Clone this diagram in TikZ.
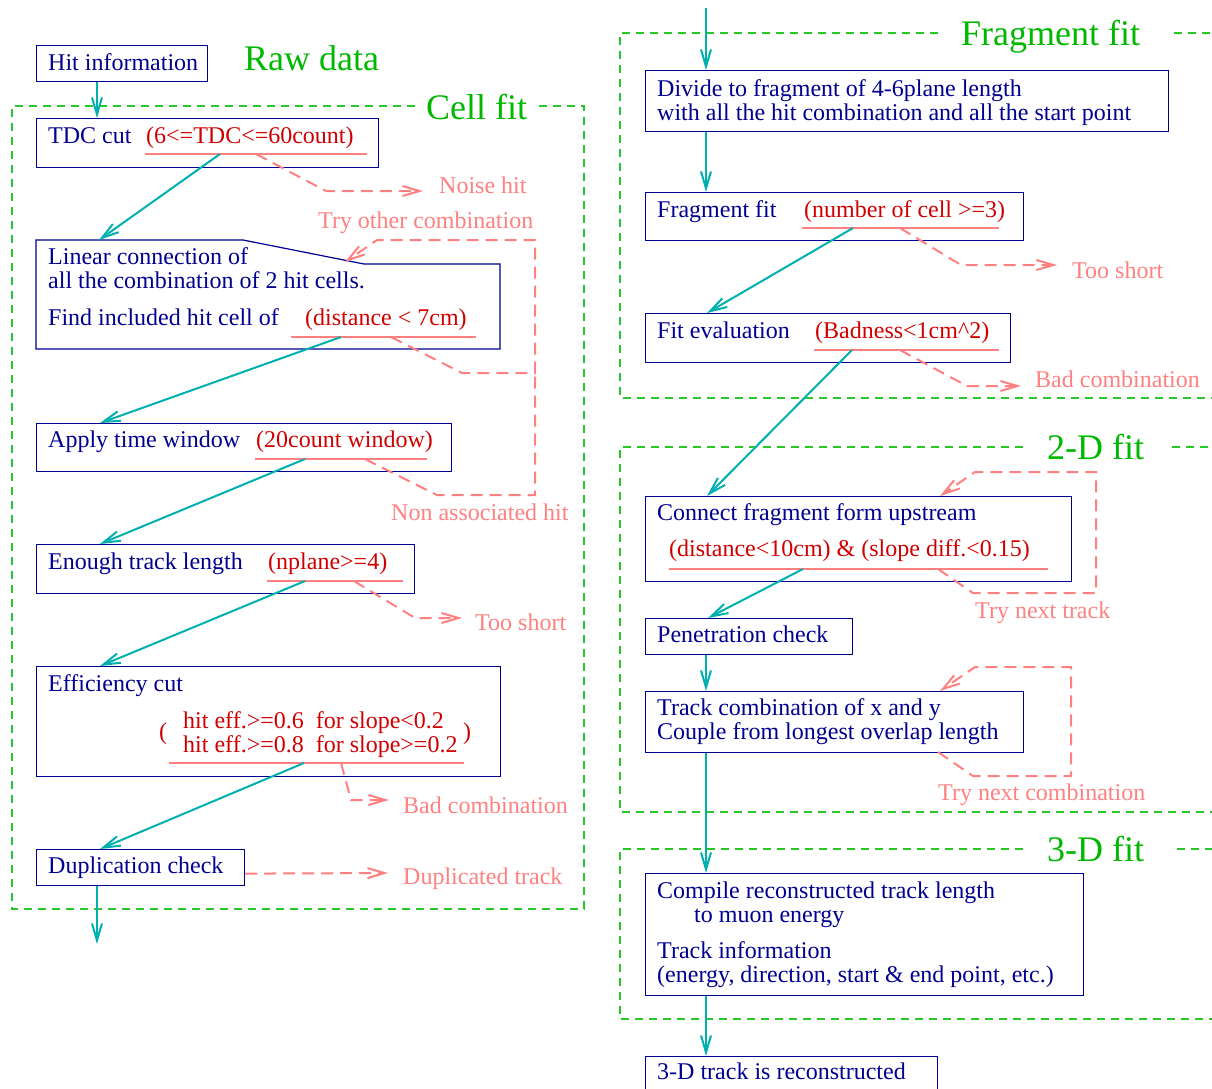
\documentclass[tikz,border=0pt]{standalone}
\usepackage{fontspec}
\setmainfont{Liberation Serif}
\usepackage{tikz}
\usetikzlibrary{arrows.meta}

\definecolor{navy}{RGB}{0,0,144}
\definecolor{redtxt}{RGB}{208,0,0}
\definecolor{salmon}{RGB}{255,128,128}
\definecolor{cyanline}{RGB}{0,176,176}
\definecolor{figgreen}{RGB}{0,184,0}
\definecolor{framegreen}{RGB}{40,200,40}

\begin{document}
\begin{tikzpicture}[
  x=1pt, y=-1pt,
  box/.style={draw=navy, line width=1.2pt, anchor=north west, inner sep=0pt},
  txt/.style={anchor=base west, inner sep=0pt, text=navy, font=\fontsize{24}{24}\selectfont, align=left},
  cond/.style={txt, text=redtxt},
  note/.style={txt, text=salmon},
  title/.style={anchor=base west, inner sep=0pt, text=figgreen, font=\fontsize{36}{40}\selectfont},
  flow/.style={cyanline, line width=2pt, -{Straight Barb[length=17pt, width=10pt]}},
  reject/.style={salmon, line width=2pt, dash pattern=on 12pt off 7pt, -{Straight Barb[length=17pt, width=10pt]}},
  uline/.style={salmon, line width=2pt},
  grpframe/.style={framegreen, line width=1.3pt, dash pattern=on 8pt off 6pt}
]
\clip (0,0) rectangle (1212,1088);

% group frames
\draw[grpframe] (415,106) -- (12,106) -- (12,909) -- (584,909) -- (584,106) -- (535,106);
\draw[grpframe] (938,33) -- (620,33) -- (620,398) -- (1212,398);
\draw[grpframe] (1174,33) -- (1212,33);
\draw[grpframe] (1023,447) -- (620,447) -- (620,812) -- (1212,812);
\draw[grpframe] (1172,447) -- (1212,447);
\draw[grpframe] (1023,849) -- (620,849) -- (620,1019) -- (1212,1019);
\draw[grpframe] (1177,849) -- (1212,849);

\node[title] (rawT) at (244,70) {Raw data};
\node[title] (cellT) at (426,119) {Cell fit};
\node[title] (fragT) at (961,45) {Fragment fit};
\node[title] (twoT) at (1047,459) {2-D fit};
\node[title] (threeT) at (1047,861) {3-D fit};

% left column
\node[box, minimum width=171pt, minimum height=36pt] (hit) at (36,45) {};
\node[box, minimum width=342pt, minimum height=49pt] (tdc) at (36,118) {};
\draw[navy, line width=1.2pt] (36,240) -- (243,240) -- (364,264) -- (500,264) -- (500,349) -- (36,349) -- cycle;
\node[box, minimum width=415pt, minimum height=48pt] (apply) at (36,423) {};
\node[box, minimum width=378pt, minimum height=49pt] (enough) at (36,544) {};
\node[box, minimum width=464pt, minimum height=110pt] (eff) at (36,666) {};
\node[box, minimum width=208pt, minimum height=36pt] (dup) at (36,849) {};

\node[txt] (hitT) at (48,70) {Hit information};
\node[txt] (tdcT) at (48,143) {TDC cut};
\node[cond] (tdcR) at (146,143) {(6<=TDC<=60count)};
\node[txt] (linT) at (48,288) {Linear connection of\\all the combination of 2 hit cells.};
\node[txt] (findT) at (48,325) {Find included hit cell of};
\node[cond] (linR) at (305,325) {(distance < 7cm)};
\node[txt] (applyT) at (48,447) {Apply time window};
\node[cond] (applyR) at (256,447) {(20count window)};
\node[txt] (enoughT) at (48,569) {Enough track length};
\node[cond] (enoughR) at (268,569) {(nplane>=4)};
\node[txt] (effT) at (48,691) {Efficiency cut};
\node[cond] (effR) at (183,752) {hit eff.>=0.6\ \ for slope<0.2\\hit eff.>=0.8\ \ for slope>=0.2};
\node[cond] (effL) at (159,739) {(};
\node[cond] (effRp) at (463,739) {)};
\node[txt] (dupT) at (48,873) {Duplication check};

\node[note] (noiseT) at (439,193) {Noise hit};
\node[note] (otherT) at (318,228) {Try other combination};
\node[note] (nonT) at (391,520) {Non associated hit};
\node[note] (shortT) at (475,630) {Too short};
\node[note] (badT) at (403,813) {Bad combination};
\node[note] (dupdT) at (403,884) {Duplicated track};

% right column
\node[box, minimum width=523pt, minimum height=61pt] (div) at (645,70) {};
\node[box, minimum width=378pt, minimum height=48pt] (frag) at (645,192) {};
\node[box, minimum width=365pt, minimum height=49pt] (fitev) at (645,313) {};
\node[box, minimum width=426pt, minimum height=85pt] (conn) at (645,496) {};
\node[box, minimum width=207pt, minimum height=36pt] (pen) at (645,618) {};
\node[box, minimum width=378pt, minimum height=61pt] (comb) at (645,691) {};
\node[box, minimum width=438pt, minimum height=122pt] (comp) at (645,873) {};
\node[box, minimum width=292pt, minimum height=44pt] (rec) at (645,1056) {};

\node[txt] (divT) at (657,120) {Divide to fragment of 4-6plane length\\with all the hit combination and all the start point};
\node[txt] (fragTT) at (657,217) {Fragment fit};
\node[cond] (fragR) at (804,217) {(number of cell >=3)};
\node[txt] (fitevT) at (657,338) {Fit evaluation};
\node[cond] (fitevR) at (815,338) {(Badness<1cm\textasciicircum 2)};
\node[txt] (connT) at (657,520) {Connect fragment form upstream};
\node[cond] (connR) at (669,556) {(distance<10cm) \& (slope diff.<0.15)};
\node[txt] (penT) at (657,642) {Penetration check};
\node[txt] (combT) at (657,739) {Track combination of x and y\\Couple from longest overlap length};
\node[txt] (compT) at (657,898) {Compile reconstructed track length};
\node[txt] (muonT) at (694,922) {to muon energy};
\node[txt] (infoT) at (657,982) {Track information\\(energy, direction, start \& end point, etc.)};
\node[txt] (recT) at (657,1079) {3-D track is reconstructed};

\node[note] (fshortT) at (1072,278) {Too short};
\node[note] (fbadT) at (1035,387) {Bad combination};
\node[note] (nextT) at (975,618) {Try next track};
\node[note] (ncombT) at (938,800) {Try next combination};

% underlines
\draw[uline] (145,154) -- (367,154);
\draw[uline] (291,337) -- (476,337);
\draw[uline] (255,459) -- (427,459);
\draw[uline] (267,581) -- (403,581);
\draw[uline] (169,763) -- (464,763);
\draw[uline] (802,228) -- (999,228);
\draw[uline] (814,350) -- (999,350);
\draw[uline] (669,569) -- (1048,569);

% connector ends
\coordinate (tdcA) at (220,154);
\coordinate (tdcB) at (256,154);
\coordinate (noiseE) at (423,191);
\coordinate (linIn) at (99,240);
\coordinate (linA) at (341,337);
\coordinate (linB) at (391,337);
\coordinate (linRet) at (345,262);
\coordinate (loopM) at (535,373);
\coordinate (loopR) at (535,240);
\coordinate (applyA) at (305,459);
\coordinate (applyB) at (365,459);
\coordinate (enoughA) at (305,581);
\coordinate (enoughB) at (354,581);
\coordinate (enoughE) at (462,618);
\coordinate (effA) at (304,763);
\coordinate (effB) at (341,763);
\coordinate (effE) at (389,800);
\coordinate (dupE) at (388,873);
\coordinate (cellOut) at (97,944);
\coordinate (rightIn) at (706,8);
\coordinate (fragA) at (853,228);
\coordinate (fragB) at (900,228);
\coordinate (fragE) at (1057,265);
\coordinate (fitevA) at (852,350);
\coordinate (fitevB) at (900,350);
\coordinate (fitevE) at (1021,386);
\coordinate (connA) at (803,569);
\coordinate (connB) at (938,569);
\coordinate (combB) at (938,752);

% main flow
\draw[flow] ([xshift=61pt]hit.south west) -- ([xshift=61pt]tdc.north west);
\draw[flow] (tdcA) -- (linIn);
\draw[flow] (linA) -- ([xshift=64pt]apply.north west);
\draw[flow] (applyA) -- ([xshift=64pt]enough.north west);
\draw[flow] (enoughA) -- ([xshift=64pt]eff.north west);
\draw[flow] (effA) -- ([xshift=64pt]dup.north west);
\draw[flow] ([xshift=61pt]dup.south west) -- (cellOut);

\draw[flow] (rightIn) -- ([xshift=61pt]div.north west);
\draw[flow] ([xshift=61pt]div.south west) -- ([xshift=61pt]frag.north west);
\draw[flow] (fragA) -- ([xshift=62pt]fitev.north west);
\draw[flow] (fitevA) -- ([xshift=62pt]conn.north west);
\draw[flow] (connA) -- ([xshift=63pt]pen.north west);
\draw[flow] ([xshift=61pt]pen.south west) -- ([xshift=61pt]comb.north west);
\draw[flow] ([xshift=61pt]comb.south west) -- ([xshift=61pt]comp.north west);
\draw[flow] ([xshift=61pt]comp.south west) -- ([xshift=61pt]rec.north west);

% rejected branches
\draw[reject] (tdcB) -- ++(70,37) -- (noiseE);
\draw[reject] (linB) -- ++(71,36) -- (loopM) -- (loopR) -- ++(-158,0) -- (linRet);
\draw[reject, -] (applyB) -- ++(72,36) -| (loopM);
\draw[reject] (enoughB) -- ++(61,37) -- (enoughE);
\draw[reject] (effB) -- ++(10,37) -- (effE);
\draw[reject] ([yshift=-6pt]dup.east) -- (dupE);
\draw[reject] (fragB) -- ++(61,37) -- (fragE);
\draw[reject] (fitevB) -- ++(67,36) -- (fitevE);
\draw[reject] (connB) -- ++(35,24) -- ++(123,0) -- ++(0,-121) -- ++(-121,0) -- ([xshift=295pt]conn.north west);
\draw[reject] (combB) -- ++(35,24) -- ++(98,0) -- ++(0,-109) -- ++(-96,0) -- ([xshift=295pt]comb.north west);

\end{tikzpicture}
\end{document}
